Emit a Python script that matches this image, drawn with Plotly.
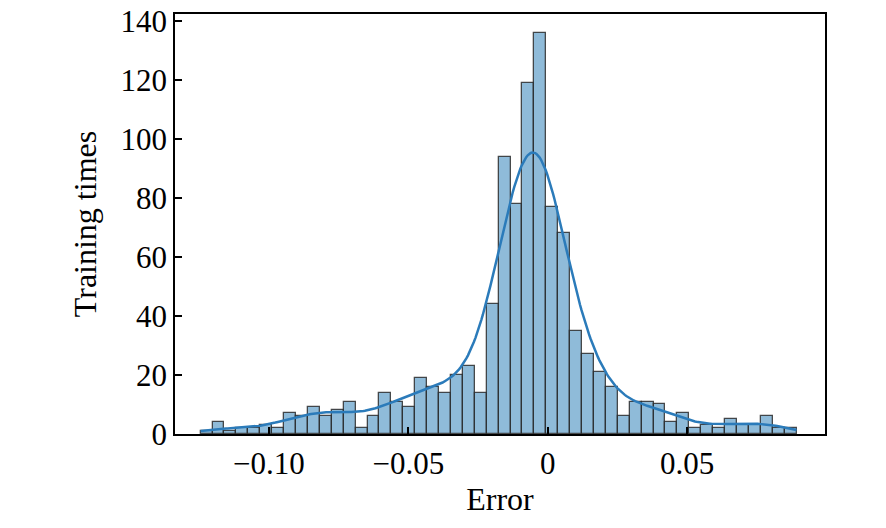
import numpy as np
import plotly.graph_objects as go

# histogram of errors, 50 bins
bin_start = -0.1245
bin_end = 0.0893
counts = [1, 4, 1, 2, 2, 3, 2, 7, 6, 9,
          6, 8, 11, 2, 6, 14, 11, 9, 19, 16,
          14, 20, 23, 14, 44, 94, 78, 119, 136, 77,
          68, 35, 27, 21, 16, 6, 11, 11, 10, 4,
          7, 2, 3, 2, 5, 3, 3, 6, 2, 2]

x_ticks = [-0.10, -0.05, 0, 0.05]
x_tick_text = ["\u22120.10", "\u22120.05", "0", "0.05"]
y_ticks = [0, 20, 40, 60, 80, 100, 120, 140]

edges = np.linspace(bin_start, bin_end, len(counts) + 1)
centers = (edges[:-1] + edges[1:]) / 2
bw = edges[1] - edges[0]
w = np.array(counts, dtype=float)

# gaussian kde (scott) on the binned values, scaled to counts
n = w.sum()
mean = np.sum(w * centers) / n
std = np.sqrt(np.sum(w * (centers - mean) ** 2) / (n - 1))
h = std * n ** (-1 / 5)
xs = np.linspace(bin_start, bin_end, 400)
dens = (w[None, :] * np.exp(-0.5 * ((xs[:, None] - centers[None, :]) / h) ** 2)).sum(axis=1)
dens = dens / (n * h * np.sqrt(2 * np.pi))
kde_y = dens * n * bw

font = "Liberation Serif, Times New Roman, serif"

fig = go.Figure()
fig.add_trace(go.Bar(
    x=centers, y=counts, width=bw,
    marker=dict(color="rgba(31,119,180,0.5)",
                line=dict(color="rgba(45,45,45,0.85)", width=1.3)),
    showlegend=False,
))
fig.add_trace(go.Scatter(
    x=xs, y=kde_y, mode="lines",
    line=dict(color="#2b7bba", width=2.5),
    showlegend=False,
))

axis_common = dict(
    showline=True, linecolor="black", linewidth=1.5, mirror=True,
    ticks="inside", ticklen=7, tickwidth=1.5, tickcolor="black",
    showgrid=False, zeroline=False, automargin=False,
    ticklabeloverflow="allow",
    tickfont=dict(family=font, size=31, color="black"),
)
fig.update_xaxes(
    range=[-0.1337, 0.0995], tickvals=x_ticks, ticktext=x_tick_text,
    title=dict(text="Error", font=dict(family=font, size=32, color="black"), standoff=8),
    ticklabelstandoff=1,
    **axis_common,
)
fig.update_yaxes(
    range=[0, 142.3], tickvals=y_ticks,
    title=dict(text="Training times", font=dict(family=font, size=32, color="black"), standoff=14),
    ticklabelstandoff=0,
    **axis_common,
)
fig.update_layout(
    width=878, height=520,
    margin=dict(l=167, r=61, t=6, b=94),
    plot_bgcolor="white", paper_bgcolor="white",
    bargap=0,
)
fig.write_html("out.html")
